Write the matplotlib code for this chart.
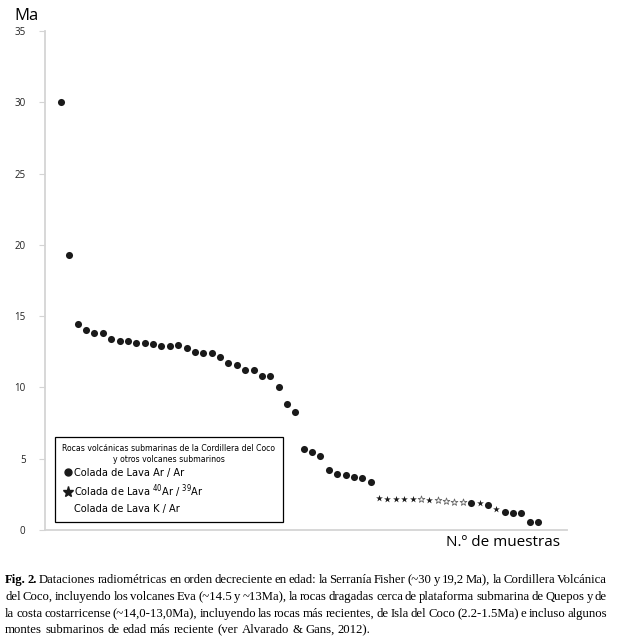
import numpy as np
import matplotlib.pyplot as plt

# ages (Ma) in decreasing order, one per sample
ages = [30.0, 19.27, 14.48, 14.06, 13.83, 13.83, 13.43, 13.22, 13.22, 13.13,
        13.13, 13.01, 12.92, 12.92, 12.94, 12.73, 12.47, 12.43, 12.43, 12.12,
        11.72, 11.54, 11.21, 11.21, 10.81, 10.81, 10.0, 8.81, 8.29, 5.70,
        5.49, 5.19, 4.18, 3.92, 3.83, 3.74, 3.62, 3.39, 2.22, 2.20,
        2.20, 2.18, 2.17, 2.14, 2.12, 2.08, 2.03, 1.98, 1.94, 1.90,
        1.87, 1.77, 1.50, 1.27, 1.21, 1.17, 0.54, 0.54]
# method: 'd' = Ar/Ar dot, 's' = 40Ar/39Ar star, 'o' = open (faint) star
method = (['d'] * 38 + ['s'] * 5 + ['o', 's', 'o', 'o', 'o', 'o'] +
          ['d', 's', 'd', 's'] + ['d'] * 5)

yticks = [0, 5, 10, 15, 20, 25, 30, 35]

legend_title = "Rocas volcánicas submarinas de la Cordillera del Coco\ny otros volcanes submarinos"
legend_labels = ["Colada de Lava Ar / Ar",
                 r"Colada de Lava $^{40}$Ar / $^{39}$Ar",
                 "Colada de Lava K / Ar"]

caption = [
    "Fig. 2. Dataciones radiométricas en orden decreciente en edad: la Serranía Fisher (~30 y 19,2 Ma), la Cordillera Volcánica",
    "del Coco, incluyendo los volcanes Eva (~14.5  y ~13Ma), la rocas dragadas cerca de plataforma submarina de Quepos y de",
    "la costa costarricense (~14,0-13,0Ma), incluyendo las rocas más recientes, de Isla del Coco (2.2-1.5Ma) e incluso algunos",
    "montes submarinos de edad más reciente (ver Alvarado & Gans, 2012).",
]

plt.rcParams['font.family'] = ['Open Sans', 'DejaVu Sans']
plt.rcParams['mathtext.fontset'] = 'custom'
plt.rcParams['mathtext.rm'] = 'DejaVu Sans:stretch=condensed'

ages = np.array(ages)
method = np.array(method)
x = np.arange(1, len(ages) + 1)

fig = plt.figure(figsize=(6.18, 6.36), dpi=100)
ax = fig.add_axes([0.0728, 0.1667, 0.8447, 0.7846])

m = method == 'd'
ax.scatter(x[m], ages[m], s=26, c='#1a1a1a', marker='o', lw=0, zorder=3)
m = method == 's'
ax.scatter(x[m], ages[m], s=26, c='#1a1a1a', marker='*', lw=0, zorder=3)
m = method == 'o'
ax.scatter(x[m], ages[m], s=26, facecolors='white', edgecolors='#666666',
           marker='*', lw=0.6, zorder=3)

ax.set_xlim(-0.91, 61.45)
ax.set_ylim(0, 35)
ax.set_yticks(yticks)
ax.set_xticks([])
for s in ['top', 'right']:
    ax.spines[s].set_visible(False)
for s in ['left', 'bottom']:
    ax.spines[s].set_color('#d4d4d4')
    ax.spines[s].set_linewidth(1.3)
ax.tick_params(axis='y', length=4, color='#d4d4d4', labelsize=7, pad=10,
               labelcolor='#222222')

fig.text(0.024, 1 - 16 / 636, 'Ma', fontsize=12, va='center', ha='left')
fig.text(560 / 618, 1 - 543 / 636, 'N.º de muestras', fontsize=11,
         va='center', ha='right')

# legend
h1 = plt.Line2D([], [], ls='', marker='o', ms=5, color='#1a1a1a')
h2 = plt.Line2D([], [], ls='', marker='*', ms=8, color='#1a1a1a')
h3 = plt.Line2D([], [], ls='', marker='o', ms=5, color='white')
leg = ax.legend([h1, h2, h3], legend_labels, loc='lower left',
                bbox_to_anchor=(0.019, 0.016), title=legend_title,
                prop={'family': 'DejaVu Sans', 'stretch': 'condensed', 'size': 7.8},
                title_fontproperties={'family': 'DejaVu Sans',
                                      'stretch': 'condensed', 'size': 6.2},
                frameon=True, fancybox=False, edgecolor='black', framealpha=1,
                handletextpad=0.1, handlelength=1.0, borderpad=0.7,
                labelspacing=0.4, borderaxespad=0)
leg.get_frame().set_linewidth(0.9)
leg._legend_box.align = 'left'
leg.get_title().set_multialignment('center')

# caption, justified lines
fig.canvas.draw()
renderer = fig.canvas.get_renderer()
left, right = 5 / 618, 607 / 618
ys = [580, 597, 614, 630]
fs = 9.2
for i, line in enumerate(caption):
    y = 1 - ys[i] / 636
    words = line.split()
    texts = []
    for j, w in enumerate(words):
        bold = i == 0 and j < 2
        t = fig.text(0, y, w, fontsize=fs, family='Liberation Serif',
                     fontweight='bold' if bold else 'normal', va='center',
                     ha='left')
        texts.append(t)
    widths = [t.get_window_extent(renderer).width / fig.bbox.width for t in texts]
    if i < len(caption) - 1:
        gap = (right - left - sum(widths)) / (len(words) - 1)
    else:
        sp = fig.text(0, 0, 'a b', fontsize=fs, family='Liberation Serif')
        sp2 = fig.text(0, 0, 'ab', fontsize=fs, family='Liberation Serif')
        gap = (sp.get_window_extent(renderer).width -
               sp2.get_window_extent(renderer).width) / fig.bbox.width
        sp.remove()
        sp2.remove()
    pos = left
    for t, w in zip(texts, widths):
        t.set_x(pos)
        pos += w + gap

fig.savefig('out.png', dpi=100)
